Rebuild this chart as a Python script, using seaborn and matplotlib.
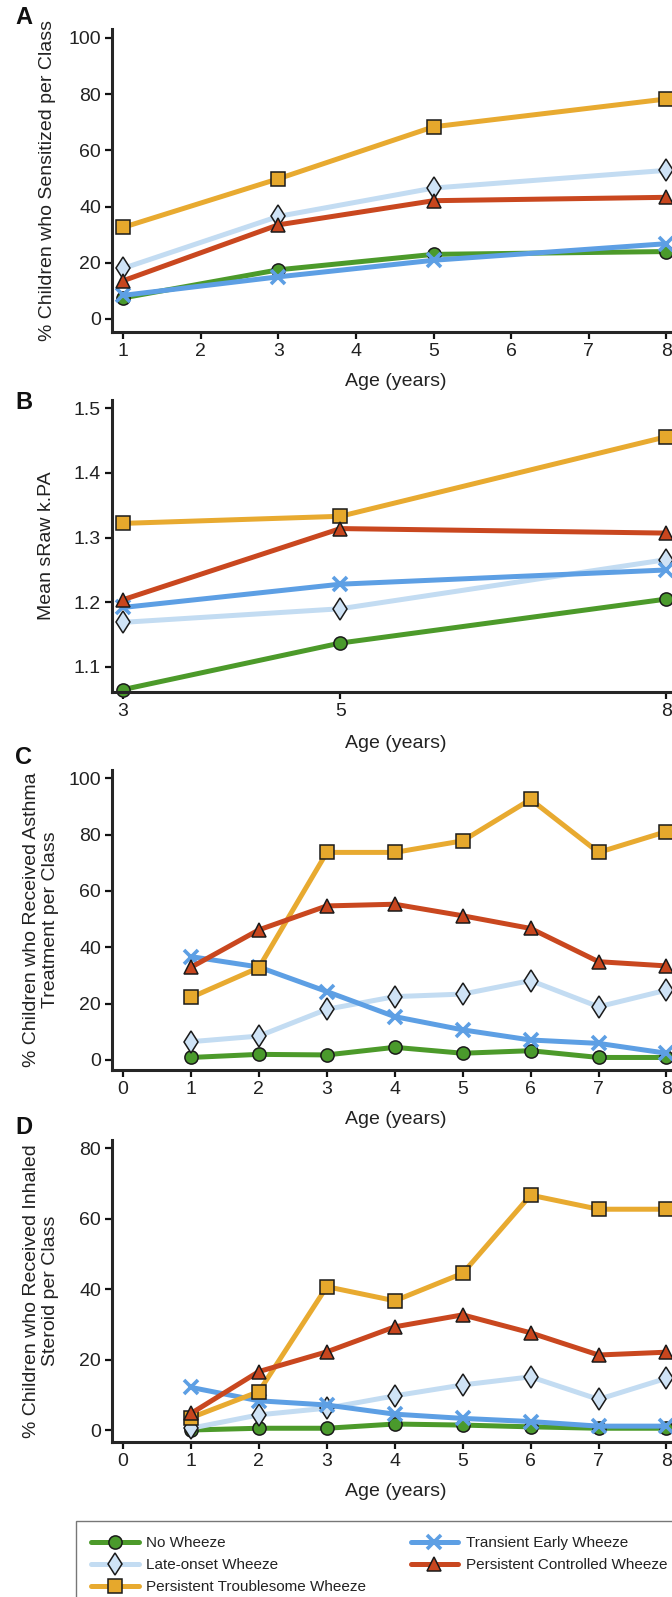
import numpy as np
import pandas as pd
import matplotlib
matplotlib.use("Agg")
import matplotlib.pyplot as plt
import seaborn as sns
from matplotlib.lines import Line2D

# ---- data -------------------------------------------------------------
classes = ["No Wheeze", "Late-onset Wheeze", "Transient Early Wheeze",
           "Persistent Troublesome Wheeze", "Persistent Controlled Wheeze"]

# A: sensitisation (%)
ages_a = [1, 3, 5, 8]
sens_no = [7.5, 17.5, 23.0, 24.0]
sens_late = [18.0, 36.5, 46.6, 52.9]
sens_trans = [8.4, 15.0, 20.9, 26.8]
sens_trouble = [32.6, 49.9, 68.4, 78.3]
sens_control = [13.6, 33.5, 42.1, 43.3]

# B: mean sRaw (kPa)
ages_b = [3, 5, 8]
sraw_no = [1.065, 1.137, 1.205]
sraw_late = [1.169, 1.190, 1.266]
sraw_trans = [1.192, 1.228, 1.250]
sraw_trouble = [1.322, 1.333, 1.456]
sraw_control = [1.204, 1.314, 1.307]

# C: any asthma treatment (%)
ages_cd = [1, 2, 3, 4, 5, 6, 7, 8]
treat_no = [0.9, 2.0, 1.8, 4.5, 2.4, 3.3, 0.9, 0.9]
treat_late = [6.5, 8.5, 18.0, 22.5, 23.4, 28.2, 18.9, 24.8]
treat_trans = [36.7, 33.0, 24.3, 15.4, 10.7, 7.1, 5.9, 2.4]
treat_trouble = [22.2, 32.8, 73.7, 73.7, 77.8, 92.5, 73.7, 81.1]
treat_control = [32.9, 46.2, 54.7, 55.3, 51.2, 46.7, 34.9, 33.4]

# D: inhaled steroid (%)
ics_no = [0.0, 0.5, 0.5, 1.7, 1.4, 0.9, 0.5, 0.5]
ics_late = [0.5, 4.3, 6.2, 9.7, 12.8, 15.1, 8.7, 14.7]
ics_trans = [12.1, 8.3, 7.1, 4.5, 3.3, 2.4, 1.1, 1.1]
ics_trouble = [3.5, 10.9, 40.7, 36.7, 44.5, 66.7, 62.7, 62.7]
ics_control = [4.7, 16.6, 22.2, 29.3, 32.7, 27.6, 21.3, 22.1]

ticks_a = [1, 2, 3, 4, 5, 6, 7, 8]
ticks_b = [3, 5, 8]
ticks_cd = [0, 1, 2, 3, 4, 5, 6, 7, 8]

# ---- styling ----------------------------------------------------------
line_colors = {"No Wheeze": "#4c9a2a", "Late-onset Wheeze": "#c3dcf2",
               "Transient Early Wheeze": "#5d9fe4",
               "Persistent Troublesome Wheeze": "#e8aa30",
               "Persistent Controlled Wheeze": "#c9471f"}
face_colors = {"No Wheeze": "#4a9a2c", "Late-onset Wheeze": "#cfe3f6",
               "Transient Early Wheeze": "#5d9fe4",
               "Persistent Troublesome Wheeze": "#e6a82c",
               "Persistent Controlled Wheeze": "#c8461e"}
markers = {"No Wheeze": "o", "Late-onset Wheeze": "d",
           "Transient Early Wheeze": "x",
           "Persistent Troublesome Wheeze": "s",
           "Persistent Controlled Wheeze": "^"}
msizes = {"No Wheeze": 9.5, "Late-onset Wheeze": 11.5,
          "Transient Early Wheeze": 10, "Persistent Troublesome Wheeze": 9.5,
          "Persistent Controlled Wheeze": 10}
draw_order = ["No Wheeze", "Late-onset Wheeze", "Transient Early Wheeze",
              "Persistent Troublesome Wheeze", "Persistent Controlled Wheeze"]

sns.set_style("ticks")
plt.rcParams["font.family"] = ["Liberation Sans", "DejaVu Sans"]
plt.rcParams["axes.linewidth"] = 2.2

W, H = 672, 1597
fig = plt.figure(figsize=(W / 100, H / 100), dpi=100)


def add_axes(top, bottom, left=112, right=672):
    return fig.add_axes([left / W, 1 - bottom / H, (right - left) / W,
                         (bottom - top) / H])


def draw_series(ax, x, series):
    for name in draw_order:
        mk = markers[name]
        edge = line_colors[name] if mk == "x" else "#1a1a1a"
        sns.lineplot(x=x, y=series[name], ax=ax, color=line_colors[name],
                     linewidth=3.6, marker=mk, markersize=msizes[name],
                     markerfacecolor=face_colors[name],
                     markeredgecolor=edge,
                     markeredgewidth=2.6 if mk == "x" else 1.1,
                     legend=False, clip_on=False)


def style_axes(ax, xlim, ylim, xticks, yticks, ylabel, ylab_px, xlab_y):
    ax.set_xlim(*xlim)
    ax.set_ylim(*ylim)
    ax.set_xticks(xticks)
    ax.set_yticks(yticks)
    sns.despine(ax=ax)
    ax.tick_params(axis="both", labelsize=14, length=5, width=1.6, pad=3,
                   color="#111111", labelcolor="#222222")
    ax.set_ylabel(ylabel, fontsize=14, color="#222222", linespacing=1.2)
    ax.yaxis.set_label_coords((ylab_px - 112) / 560, 0.5)
    ax.set_xlabel("Age (years)", fontsize=14, color="#222222")
    ax.xaxis.set_label_coords(0.507, xlab_y)
    ax.xaxis.label.set_verticalalignment("center")
    ax.yaxis.label.set_verticalalignment("center")


# A
axA = add_axes(29, 332)
draw_series(axA, ages_a, {"No Wheeze": sens_no, "Late-onset Wheeze": sens_late,
                          "Transient Early Wheeze": sens_trans,
                          "Persistent Troublesome Wheeze": sens_trouble,
                          "Persistent Controlled Wheeze": sens_control})
style_axes(axA, (0.858, 8.071), (-4.63, 103.2), ticks_a, [0, 20, 40, 60, 80, 100],
           "% Children who Sensitized per Class", 48, (332 - 382) / 303)

# B
axB = add_axes(400, 692)
draw_series(axB, ages_b, {"No Wheeze": sraw_no, "Late-onset Wheeze": sraw_late,
                          "Transient Early Wheeze": sraw_trans,
                          "Persistent Troublesome Wheeze": sraw_trouble,
                          "Persistent Controlled Wheeze": sraw_control})
style_axes(axB, (2.899, 8.051), (1.0613, 1.5128), ticks_b,
           [1.1, 1.2, 1.3, 1.4, 1.5], "Mean sRaw k.PA", 47,
           (692 - 744) / 292)
axB.set_yticklabels(["1.1", "1.2", "1.3", "1.4", "1.5"])

# C
axC = add_axes(770, 1070)
draw_series(axC, ages_cd, {"No Wheeze": treat_no, "Late-onset Wheeze": treat_late,
                           "Transient Early Wheeze": treat_trans,
                           "Persistent Troublesome Wheeze": treat_trouble,
                           "Persistent Controlled Wheeze": treat_control})
style_axes(axC, (-0.162, 8.081), (-3.55, 102.95), ticks_cd,
           [0, 20, 40, 60, 80, 100],
           "% Children who Received Asthma\nTreatment per Class",
           41, (1070 - 1120) / 300)

# D
axD = add_axes(1140, 1441.7)
draw_series(axD, ages_cd, {"No Wheeze": ics_no, "Late-onset Wheeze": ics_late,
                           "Transient Early Wheeze": ics_trans,
                           "Persistent Troublesome Wheeze": ics_trouble,
                           "Persistent Controlled Wheeze": ics_control})
style_axes(axD, (-0.162, 8.081), (-3.32, 82.36), ticks_cd,
           [0, 20, 40, 60, 80],
           "% Children who Received Inhaled\nSteroid per Class",
           41, (1441.7 - 1492) / 301.7)

# panel letters
for letter, top in [("A", 6), ("B", 391), ("C", 746), ("D", 1116)]:
    fig.text(15 / W, 1 - top / H, letter, fontsize=17, fontweight="bold",
             ha="left", va="top", color="#111111")

# legend
legend_order = ["No Wheeze", "Late-onset Wheeze", "Persistent Troublesome Wheeze",
                "Transient Early Wheeze", "Persistent Controlled Wheeze"]
handles = []
for name in legend_order:
    mk = markers[name]
    handles.append(Line2D([], [], color=line_colors[name], linewidth=3.6,
                          marker=mk, markersize=msizes[name],
                          markerfacecolor=face_colors[name],
                          markeredgecolor=line_colors[name] if mk == "x" else "#1a1a1a",
                          markeredgewidth=2.6 if mk == "x" else 1.1))
leg = fig.legend(handles, legend_order, loc="upper left",
                 bbox_to_anchor=(76 / W, 1 - 1521 / H), ncol=2, fontsize=11,
                 frameon=True, fancybox=False, edgecolor="#555555",
                 handlelength=3.1, handletextpad=0.5, borderaxespad=0,
                 columnspacing=2.9, labelspacing=0.52, borderpad=1.0)
leg.get_frame().set_linewidth(1.0)
for t in leg.get_texts():
    t.set_color("#222222")

fig.savefig("out.png", dpi=100)
